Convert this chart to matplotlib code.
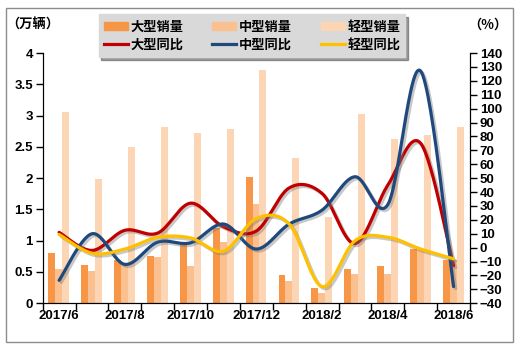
import matplotlib
matplotlib.use('Agg')
import matplotlib.pyplot as plt
import matplotlib.patheffects as pe
from matplotlib.patches import Patch, Rectangle
from matplotlib.lines import Line2D
import numpy as np

plt.rcParams['font.family'] = ['Liberation Sans', 'Noto Sans CJK SC', 'DejaVu Sans']
plt.rcParams['font.weight'] = 'bold'

months = ['2017/6', '2017/7', '2017/8', '2017/9', '2017/10', '2017/11', '2017/12',
          '2018/1', '2018/2', '2018/3', '2018/4', '2018/5', '2018/6']

# 销量（万辆）
large_sales = [0.81, 0.61, 0.69, 0.76, 0.93, 1.20, 2.02, 0.46, 0.24, 0.55, 0.60, 0.87, 0.69]
medium_sales = [0.55, 0.52, 0.61, 0.74, 0.60, 0.98, 1.58, 0.36, 0.17, 0.47, 0.47, 0.85, 0.69]
light_sales = [3.05, 1.99, 2.50, 2.82, 2.72, 2.78, 3.73, 2.32, 1.38, 3.03, 2.62, 2.69, 2.82]

# 同比（%）
large_yoy = [11, -2, 12.5, 10.5, 32, 15, 12, 43, 39, 3, 45, 75, -13]
medium_yoy = [-23.5, 10, -12, 4, 3.5, 17, -1, 17, 27, 51, 31, 127, -28]
light_yoy = [9.5, -4, -1, 7.5, 7, -2.5, 21, 17, -28, 5, 7.5, -1, -8]

c_large = '#F79646'
c_medium = '#FAC090'
c_light = '#FCD5B5'
c_red = '#C00000'
c_blue = '#1F497D'
c_yellow = '#FFC000'


def smooth(xs, ys, n=30):
    # Catmull-Rom style smoothing, like Excel's smoothed line
    xs = np.asarray(xs, float)
    ys = np.asarray(ys, float)
    px = np.concatenate([[xs[0]], xs, [xs[-1]]])
    py = np.concatenate([[ys[0]], ys, [ys[-1]]])
    out_x, out_y = [], []
    t = np.linspace(0, 1, n)
    for i in range(1, len(px) - 2):
        p1 = np.array([px[i], py[i]])
        p2 = np.array([px[i + 1], py[i + 1]])
        c1 = p1 + (p2 - np.array([px[i - 1], py[i - 1]])) / 6
        c2 = p2 - (np.array([px[i + 2], py[i + 2]]) - p1) / 6
        b = ((1 - t) ** 3)[:, None] * p1 + (3 * (1 - t) ** 2 * t)[:, None] * c1 \
            + (3 * (1 - t) * t ** 2)[:, None] * c2 + (t ** 3)[:, None] * p2
        out_x.extend(b[:, 0])
        out_y.extend(b[:, 1])
    return out_x, out_y


fig = plt.figure(figsize=(5.23, 3.52), dpi=100)
ax = fig.add_axes([0.0816, 0.1384, 0.8171, 0.711])
ax2 = ax.twinx()

x = np.arange(len(months))
w = 0.21
ax.bar(x - 0.22, large_sales, w, color=c_large, zorder=2)
ax.bar(x - 0.01, medium_sales, w, color=c_medium, zorder=2)
ax.bar(x + 0.20, light_sales, w, color=c_light, zorder=2)

shadow = [pe.SimpleLineShadow(offset=(1.5, -1.5), shadow_color='#777777', alpha=0.4), pe.Normal()]
for vals, col in [(large_yoy, c_red), (medium_yoy, c_blue), (light_yoy, c_yellow)]:
    sx, sy = smooth(x, vals)
    ax2.plot(sx, sy, color=col, lw=2.3, solid_capstyle='round', path_effects=shadow)

ax.set_xlim(-0.5, len(months) - 0.5)
ax.set_ylim(0, 4)
ax2.set_ylim(-40, 140)

ax.set_yticks(np.arange(0, 4.01, 0.5))
ax.set_yticklabels(['0', '0.5', '1', '1.5', '2', '2.5', '3', '3.5', '4'])
ax2.set_yticks(np.arange(-40, 141, 10))

ax.set_xticks(np.arange(-0.5, len(months), 1))
ax.set_xticklabels([])
ax.set_xticks(x[::2], [months[i] for i in x[::2]], minor=True)
ax.tick_params(axis='x', which='minor', length=0, pad=5)
ax.tick_params(axis='x', which='major', length=5, width=1, direction='out')

for a in (ax, ax2):
    a.spines['top'].set_visible(False)
    a.tick_params(axis='y', length=5, width=1, direction='out', pad=2)
    for lab in a.get_yticklabels() + a.get_xticklabels(minor=True):
        lab.set_fontsize(9.5)
        lab.set_fontweight('bold')

fig.text(0.012, 0.93, '（万辆）', fontsize=9.5, fontweight='bold', va='center',
         family=['Noto Sans CJK SC', 'DejaVu Sans'])
fig.text(0.895, 0.93, '（%）', fontsize=9.5, fontweight='bold', va='center',
         family=['Noto Sans CJK SC', 'DejaVu Sans'])

handles = [Patch(color=c_large), Line2D([], [], color=c_red, lw=2.3),
           Patch(color=c_medium), Line2D([], [], color=c_blue, lw=2.3),
           Patch(color=c_light), Line2D([], [], color=c_yellow, lw=2.3)]
labels = ['大型销量', '大型同比', '中型销量', '中型同比', '轻型销量', '轻型同比']
leg = fig.legend(handles, labels, ncol=3, loc='center', bbox_to_anchor=(0.482, 0.899),
                 frameon=True, fancybox=False, shadow=True, handlelength=1.8,
                 handleheight=0.5, handletextpad=0.2, columnspacing=2.2,
                 labelspacing=0.3, borderpad=0.4,
                 prop={'family': ['Noto Sans CJK SC', 'DejaVu Sans'], 'weight': 'bold', 'size': 9.5})
leg.get_frame().set_facecolor('#D9D9D9')
leg.get_frame().set_edgecolor('#D9D9D9')
leg.get_frame().set_alpha(1)

fig.patches.append(Rectangle((5.5 / 523, 10 / 352), 507.5 / 523, 334.5 / 352,
                             transform=fig.transFigure, fill=False,
                             edgecolor='#8C8C8C', lw=1))

fig.savefig('out.png', dpi=100)
